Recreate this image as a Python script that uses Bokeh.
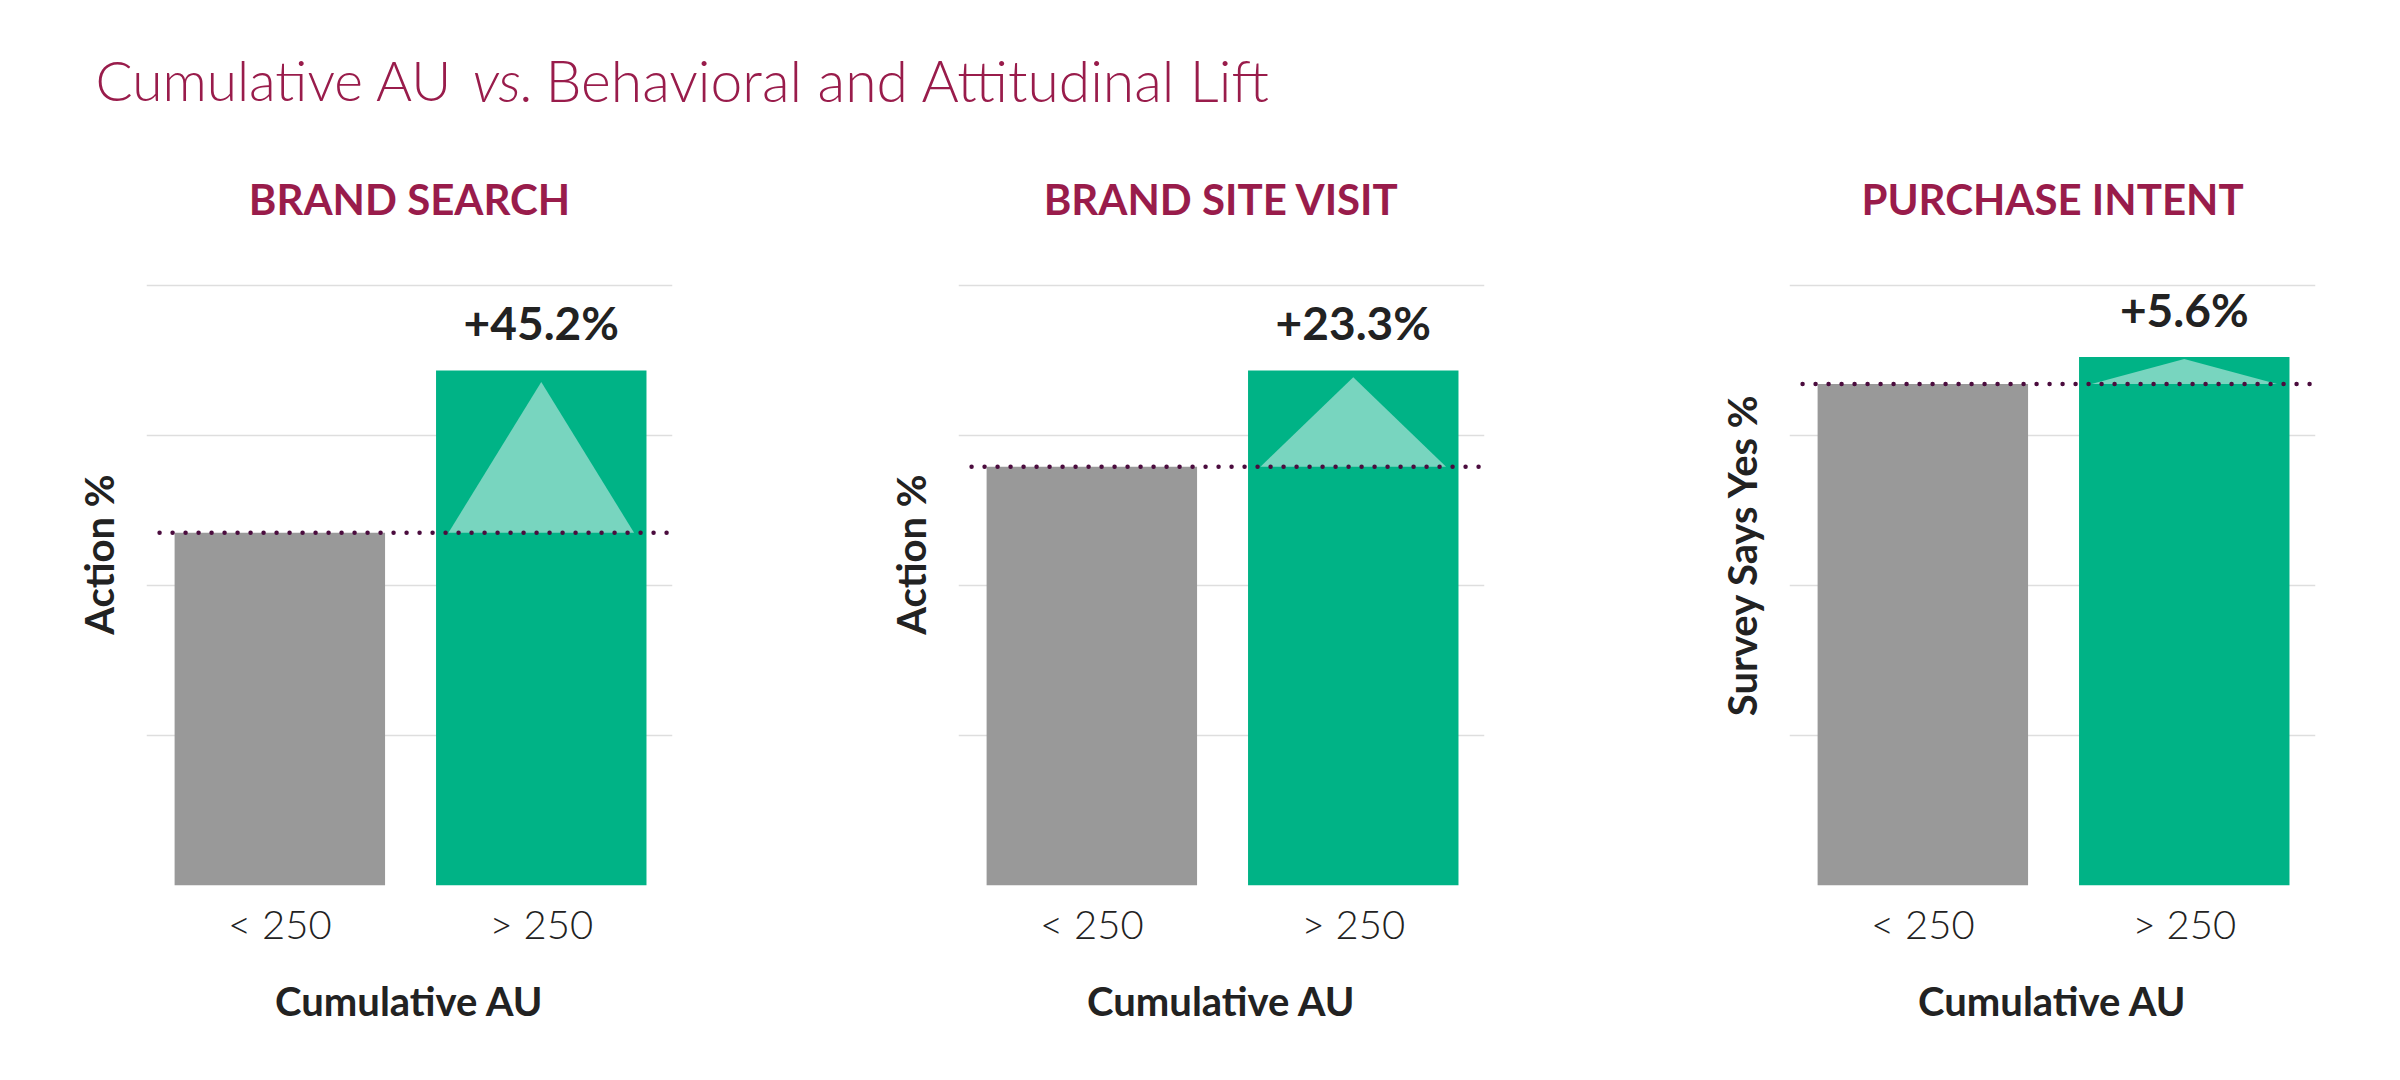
from bokeh.plotting import figure
from bokeh.layouts import column, row
from bokeh.models import Label, FixedTicker, Range1d
from bokeh.embed import file_html
from bokeh.resources import INLINE
from bokeh.core.properties import value

# ---- data ----
categories = ["< 250", "> 250"]
panel_titles = ["BRAND SEARCH", "BRAND SITE VISIT", "PURCHASE INTENT"]
y_axis_labels = ["Action %", "Action %", "Survey Says Yes %"]
x_axis_label = "Cumulative AU"
below_250 = [2.35, 2.79, 3.34]
above_250 = [3.43, 3.43, 3.52]
lift_labels = ["+45.2%", "+23.3%", "+5.6%"]
grid_ticks = [1, 2, 3, 4]
title_parts = ["Cumulative AU", "vs.", "Behavioral and Attitudinal Lift"]

# ---- style ----
TITLE_COLOR = "#991c4b"
TEXT_COLOR = "#222222"
BAR_COLORS = ["#999999", "#00b386"]
TRI_COLOR = "#78d5bf"
DOT_COLOR = "#4b0c3e"
FONT = "Lato"
LIGHT = "Lato Light"

TOTAL_W = 2392
HEADER_H = 158
PANEL_H = 900

header = figure(width=TOTAL_W, height=HEADER_H, x_range=Range1d(0, TOTAL_W),
                y_range=Range1d(0, HEADER_H), x_axis_type=None, y_axis_type=None,
                toolbar_location=None, output_backend="svg", min_border=0,
                outline_line_color=None)
header.title = None
for txt, x, style, size in zip(title_parts, [95, 472, 545],
                               ["normal", "italic", "normal"],
                               ["55px", "57px", "57px"]):
    header.add_layout(Label(x=x, y=79, text=txt, text_font=LIGHT,
                            text_font_size=size, text_font_style=style,
                            text_color=TITLE_COLOR, text_baseline="alphabetic"))

widths = [816, 831, 745]
borders_left = [146, 142, 142]
FRAME_W = 526
panels = []
for i in range(3):
    w = widths[i]
    bl = borders_left[i]
    p = figure(width=w, height=PANEL_H, x_range=Range1d(-0.51, 1.502),
               y_range=Range1d(0, 4.41), toolbar_location=None, output_backend="svg",
               min_border_left=bl, min_border_right=w - bl - FRAME_W,
               min_border_top=65, min_border_bottom=173, outline_line_color=None)
    p.title.text = panel_titles[i]
    p.title.align = "center"
    p.title.text_font = FONT
    p.title.text_font_style = "bold"
    p.title.text_font_size = "42px"
    p.title.text_color = TITLE_COLOR
    p.title.standoff = 0

    p.xgrid.visible = False
    p.ygrid.ticker = FixedTicker(ticks=grid_ticks)
    p.ygrid.grid_line_color = "#dedede"
    p.ygrid.grid_line_width = 1.5

    xs = list(range(len(categories)))
    vals = [below_250[i], above_250[i]]
    p.vbar(x=xs, top=vals, bottom=0, width=0.805, fill_color=BAR_COLORS,
           line_color=None)

    low, high = below_250[i], above_250[i]
    p.patch(x=[1 - 0.355, 1, 1 + 0.355], y=[low, low + 0.93 * (high - low), low],
            fill_color=TRI_COLOR, line_color=None)

    p.line(x=[-0.46, 1.48], y=[low, low], line_color=DOT_COLOR, line_width=4.5,
           line_dash="0 13", line_cap="round")

    p.text(x=[1], y=[high], text=[lift_labels[i]], text_font=value(FONT),
           text_font_style="bold", text_font_size="46px", text_align="center",
           text_baseline="alphabetic", y_offset=-48, text_color=TEXT_COLOR)

    xa = p.xaxis[0]
    xa.ticker = FixedTicker(ticks=xs)
    xa.major_label_overrides = {k: c for k, c in zip(xs, categories)}
    xa.axis_line_color = None
    xa.major_tick_line_color = None
    xa.minor_tick_line_color = None
    xa.major_tick_out = 0
    xa.major_label_standoff = 14
    xa.major_label_text_font = LIGHT
    xa.major_label_text_font_size = "40px"
    xa.major_label_text_color = TEXT_COLOR
    xa.axis_label = x_axis_label
    xa.axis_label_text_font = FONT
    xa.axis_label_text_font_style = "bold"
    xa.axis_label_text_font_size = "40px"
    xa.axis_label_text_color = TEXT_COLOR
    xa.axis_label_standoff = 26

    ya = p.yaxis[0]
    ya.ticker = FixedTicker(ticks=[])
    ya.axis_line_color = None
    ya.major_tick_line_color = None
    ya.minor_tick_line_color = None
    ya.major_tick_out = 0
    ya.major_label_standoff = 0
    ya.axis_label = y_axis_labels[i]
    ya.axis_label_text_font = FONT
    ya.axis_label_text_font_style = "bold"
    ya.axis_label_text_font_size = "40px"
    ya.axis_label_text_color = TEXT_COLOR
    ya.axis_label_standoff = 24
    panels.append(p)

layout = column(header, row(*panels))
open("out.html", "w").write(file_html(layout, INLINE))
